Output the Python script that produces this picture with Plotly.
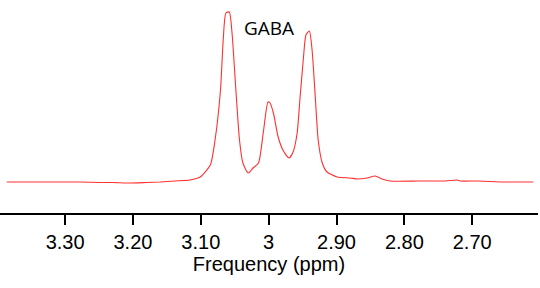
import plotly.graph_objects as go

# Chemical shift (ppm) and intensity (arbitrary units)
ppm = [3.386, 3.330, 3.278, 3.249, 3.230, 3.204, 3.180, 3.160, 3.138, 3.116,
       3.101, 3.086, 3.079, 3.071, 3.067, 3.063, 3.058, 3.054, 3.049, 3.043,
       3.038, 3.030, 3.023, 3.015, 3.008, 3.001, 2.998, 2.993, 2.986, 2.979,
       2.970, 2.964, 2.958, 2.954, 2.949, 2.945, 2.940, 2.936, 2.931, 2.927,
       2.921, 2.914, 2.899, 2.880, 2.869, 2.855, 2.843, 2.833, 2.821, 2.780,
       2.740, 2.722, 2.718, 2.690, 2.654, 2.610]
intensity = [0, 0, 0, -0.5, -0.5, -1, -0.5, 0, 1, 2,
             5, 17, 42, 92, 142, 169, 170, 149, 99, 42,
             19, 9, 14, 19, 49, 80, 79, 69, 45, 32,
             24, 30, 49, 82, 122, 147, 151, 132, 82, 42,
             19, 10, 5, 4, 3, 4, 6, 3, 1, 1,
             1, 2, 1, 1, 0, 0]

tick_vals = [3.30, 3.20, 3.10, 3.00, 2.90, 2.80, 2.70]
tick_text = ["3.30", "3.20", "3.10", "3", "2.90", "2.80", "2.70"]
label = "GABA"

fig = go.Figure()
fig.add_trace(go.Scatter(x=ppm, y=intensity, mode="lines",
                         line=dict(color="#ff3030", width=1.1, shape="spline", smoothing=0.6),
                         hoverinfo="skip", showlegend=False))

fig.add_annotation(x=3.000, y=154, text=label, showarrow=False,
                   xref="x", yref="y",
                   font=dict(family="Open Sans", size=19, color="black"))

fig.update_layout(
    width=540, height=288,
    margin=dict(l=0, r=2, t=0, b=75),
    plot_bgcolor="white", paper_bgcolor="white",
    font=dict(family="Liberation Sans, Arial", color="black"),
    xaxis=dict(range=[3.396, 2.603], tickvals=tick_vals, ticktext=tick_text,
               showline=True, linecolor="black", linewidth=2,
               ticks="outside", ticklen=10, tickwidth=2, tickcolor="black",
               showgrid=False, zeroline=False, automargin=False,
               tickfont=dict(size=20, family="Liberation Sans"),
               title=dict(text="Frequency (ppm)", standoff=2,
                          font=dict(size=20, family="Liberation Sans"))),
    yaxis=dict(range=[-31, 182], visible=False, showgrid=False, zeroline=False),
)

fig.write_html("out.html", config={"displayModeBar": False},
               post_script="document.body.style.margin='0';")
